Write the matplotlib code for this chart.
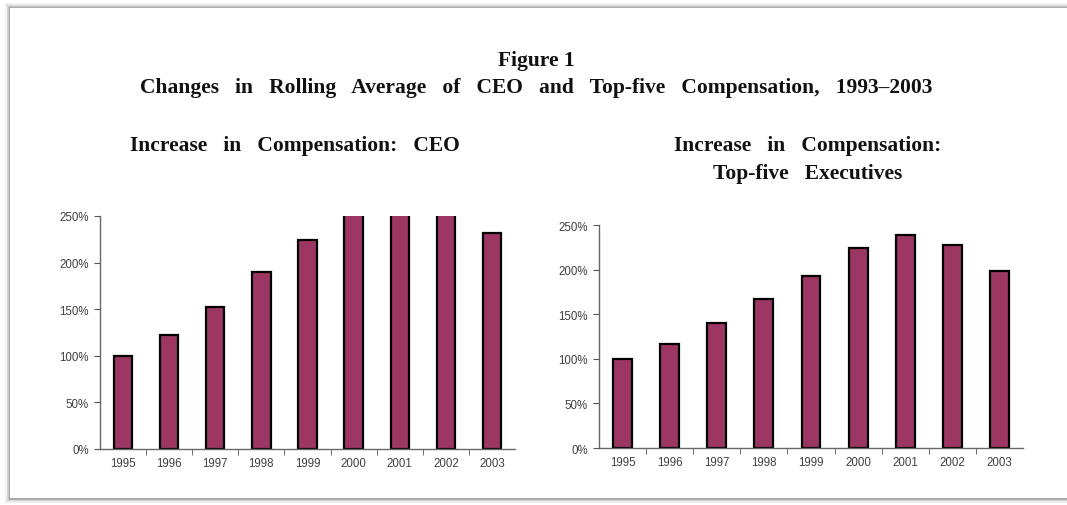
import matplotlib
matplotlib.use("Agg")
import matplotlib.pyplot as plt
from matplotlib.lines import Line2D

years = ["1995", "1996", "1997", "1998", "1999", "2000", "2001", "2002", "2003"]
ceo = [100, 122, 152, 190, 224, 275, 275, 275, 232]   # 2000-2002 run past the top of the axis
top_five = [100, 117, 140, 167, 193, 224, 239, 228, 199]
y_ticks = [0, 50, 100, 150, 200, 250]

BAR = "#9c3764"
TITLE_FONT = "Liberation Serif"


def draw_panel(ax, values):
    x = list(range(len(years)))
    ax.bar(x, values, width=0.40, color=BAR, edgecolor="black", linewidth=1.6)
    ax.set_xlim(-0.5, len(years) - 0.5)
    ax.set_ylim(0, 250)
    ax.set_yticks(y_ticks)
    ax.set_yticklabels([f"{t}%" for t in y_ticks])
    ax.set_xticks(x)
    ax.set_xticklabels(years)
    ax.set_xticks([i + 0.5 for i in x[:-1]], minor=True)
    ax.tick_params(axis="x", which="major", length=0, pad=6)
    ax.tick_params(axis="x", which="minor", length=4, direction="out", color="#555555")
    ax.tick_params(axis="y", length=4, direction="out", color="#555555", pad=4)
    for lab in ax.get_xticklabels() + ax.get_yticklabels():
        lab.set_fontfamily("Liberation Sans")
        lab.set_fontsize(8.3)
        lab.set_color("#404040")
    for s in ("top", "right"):
        ax.spines[s].set_visible(False)
    for s in ("left", "bottom"):
        ax.spines[s].set_color("#666666")
        ax.spines[s].set_linewidth(1.0)


fig = plt.figure(figsize=(10.67, 5.06), dpi=100)

ax1 = fig.add_axes([0.0937, 0.1107, 0.389, 0.4605])
draw_panel(ax1, ceo)
ax2 = fig.add_axes([0.5614, 0.1126, 0.3974, 0.4407])
draw_panel(ax2, top_five)

# page frame with a soft shadow
for off, c in [(0, "#9a9a9a"), (1.5, "#cfcfcf"), (3, "#ececec")]:
    fig.add_artist(Line2D([(9 - off) / 1067] * 2, [1 - (8 - off) / 506, 1 - (500 + off) / 506],
                          transform=fig.transFigure, color=c, lw=1.2))
    fig.add_artist(Line2D([(9 - off) / 1067, 1], [1 - (8 - off) / 506] * 2,
                          transform=fig.transFigure, color=c, lw=1.2))
    fig.add_artist(Line2D([(9 - off) / 1067, 1], [1 - (500 + off) / 506] * 2,
                          transform=fig.transFigure, color=c, lw=1.2))

tkw = dict(fontfamily=TITLE_FONT, fontweight="bold", fontsize=15.5, ha="center", va="center", color="#111111")
fig.text(536 / 1067, 1 - 61 / 506, "Figure 1", **tkw)
fig.text(536 / 1067, 1 - 88 / 506,
         "Changes   in   Rolling   Average   of   CEO   and   Top-five   Compensation,   1993–2003", **tkw)
fig.text(295 / 1067, 1 - 146 / 506, "Increase   in   Compensation:   CEO", **tkw)
fig.text(808 / 1067, 1 - 146 / 506, "Increase   in   Compensation:", **tkw)
fig.text(808 / 1067, 1 - 174 / 506, "Top-five   Executives", **tkw)

fig.savefig("out.png", dpi=100)
